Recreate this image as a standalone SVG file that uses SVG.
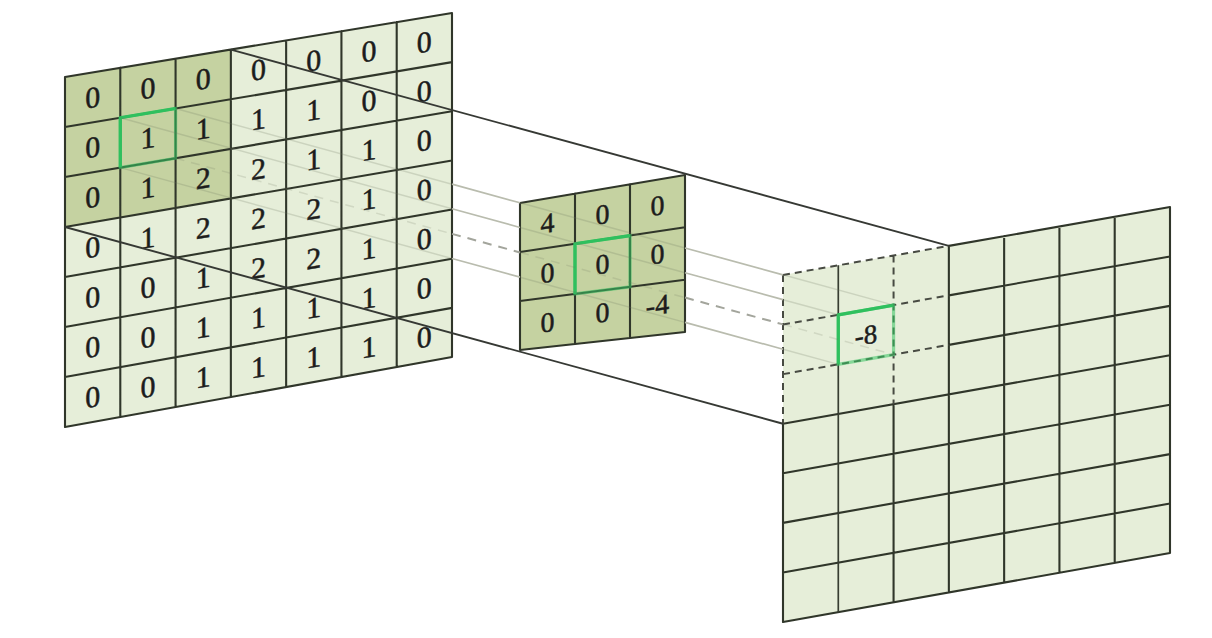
<svg xmlns="http://www.w3.org/2000/svg" width="1212" height="638" viewBox="0 0 1212 638">
<style>
.light{fill:#e6eed9}
.dark{fill:#c5d2a1}
.grid{stroke:#30362a;stroke-width:2.1;fill:none;stroke-linecap:round}
.thin{stroke:#373d31;stroke-width:1.7;fill:none}
.dash{stroke:#474a42;stroke-width:2;stroke-dasharray:7 5;fill:none}
.hlsoft{stroke:#36c463;stroke-opacity:0.55;stroke-width:3.2;fill:none}
.hl{stroke:#2fc05e;stroke-width:3.2;fill:none;stroke-linejoin:round}
.num{font-family:"Liberation Serif","Times New Roman",serif;font-size:30px;fill:#1c1c1c;stroke:#1c1c1c;stroke-width:0.5;text-anchor:middle}
.knum{font-size:28px}
.onum{font-size:27px}
.proj{stroke:#b9bcae;stroke-width:1.7;fill:none}
.projd{stroke:#a3a59c;stroke-width:2;stroke-dasharray:9 7;fill:none}
.projf{stroke:#6f7560;stroke-opacity:0.22;stroke-width:1.5;fill:none}
.projfd{stroke:#6f7560;stroke-opacity:0.18;stroke-width:1.5;stroke-dasharray:9 7;fill:none}
.edge{stroke:#363934;stroke-width:1.9;fill:none}
</style>
<rect width="1212" height="638" fill="#ffffff"/>

<g id="input-grid">
  <polygon class="light" points="65,77 452,13 452,357 65,427"/>
  <polygon class="dark" points="65,77 230.86,49.57 230.86,198.47 65,227"/>
  <path class="grid" d="M65,77V427 M120.29,67.86V417 M175.57,58.71V407 M230.86,49.57V397 M286.14,40.43V387 M341.43,31.29V377 M396.71,22.14V367 M452,13V357
  M65,77L452,13 M65,127L452,62.14 M65,177L452,111.29 M65,227L452,160.43 M65,277L452,209.57 M65,327L452,258.71 M65,377L452,307.86 M65,427L452,357"/>
  <g class="num">
    <text transform="translate(92.64 97.40) skewY(-9.4)" y="10">0</text>
    <text transform="translate(147.93 88.20) skewY(-9.4)" y="10">0</text>
    <text transform="translate(203.21 78.99) skewY(-9.4)" y="10">0</text>
    <text transform="translate(258.5 69.79) skewY(-9.4)" y="10">0</text>
    <text transform="translate(313.79 60.58) skewY(-9.4)" y="10">0</text>
    <text transform="translate(369.07 51.37) skewY(-9.4)" y="10">0</text>
    <text transform="translate(424.36 42.17) skewY(-9.4)" y="10">0</text>

    <text transform="translate(92.64 147.34) skewY(-9.4)" y="10">0</text>
    <text transform="translate(147.93 138.02) skewY(-9.4)" y="10">1</text>
    <text transform="translate(203.21 128.68) skewY(-9.4)" y="10">1</text>
    <text transform="translate(258.5 119.36) skewY(-9.4)" y="10">1</text>
    <text transform="translate(313.79 110.03) skewY(-9.4)" y="10">1</text>
    <text transform="translate(369.07 100.70) skewY(-9.4)" y="10">0</text>
    <text transform="translate(424.36 91.37) skewY(-9.4)" y="10">0</text>

    <text transform="translate(92.64 197.28) skewY(-9.4)" y="10">0</text>
    <text transform="translate(147.93 187.84) skewY(-9.4)" y="10">1</text>
    <text transform="translate(203.21 178.37) skewY(-9.4)" y="10">2</text>
    <text transform="translate(258.5 168.93) skewY(-9.4)" y="10">2</text>
    <text transform="translate(313.79 159.48) skewY(-9.4)" y="10">1</text>
    <text transform="translate(369.07 150.03) skewY(-9.4)" y="10">1</text>
    <text transform="translate(424.36 140.57) skewY(-9.4)" y="10">0</text>

    <text transform="translate(92.64 247.22) skewY(-9.4)" y="10">0</text>
    <text transform="translate(147.93 237.66) skewY(-9.4)" y="10">1</text>
    <text transform="translate(203.21 228.06) skewY(-9.4)" y="10">2</text>
    <text transform="translate(258.5 218.50) skewY(-9.4)" y="10">2</text>
    <text transform="translate(313.79 208.93) skewY(-9.4)" y="10">2</text>
    <text transform="translate(369.07 199.36) skewY(-9.4)" y="10">1</text>
    <text transform="translate(424.36 189.77) skewY(-9.4)" y="10">0</text>

    <text transform="translate(92.64 297.16) skewY(-9.4)" y="10">0</text>
    <text transform="translate(147.93 287.48) skewY(-9.4)" y="10">0</text>
    <text transform="translate(203.21 277.75) skewY(-9.4)" y="10">1</text>
    <text transform="translate(258.5 268.07) skewY(-9.4)" y="10">2</text>
    <text transform="translate(313.79 258.38) skewY(-9.4)" y="10">2</text>
    <text transform="translate(369.07 248.69) skewY(-9.4)" y="10">1</text>
    <text transform="translate(424.36 238.97) skewY(-9.4)" y="10">0</text>

    <text transform="translate(92.64 347.10) skewY(-9.4)" y="10">0</text>
    <text transform="translate(147.93 337.30) skewY(-9.4)" y="10">0</text>
    <text transform="translate(203.21 327.44) skewY(-9.4)" y="10">1</text>
    <text transform="translate(258.5 317.64) skewY(-9.4)" y="10">1</text>
    <text transform="translate(313.79 307.83) skewY(-9.4)" y="10">1</text>
    <text transform="translate(369.07 298.02) skewY(-9.4)" y="10">1</text>
    <text transform="translate(424.36 288.17) skewY(-9.4)" y="10">0</text>

    <text transform="translate(92.64 397.04) skewY(-9.4)" y="10">0</text>
    <text transform="translate(147.93 387.12) skewY(-9.4)" y="10">0</text>
    <text transform="translate(203.21 377.13) skewY(-9.4)" y="10">1</text>
    <text transform="translate(258.5 367.21) skewY(-9.4)" y="10">1</text>
    <text transform="translate(313.79 357.28) skewY(-9.4)" y="10">1</text>
    <text transform="translate(369.07 347.35) skewY(-9.4)" y="10">1</text>
    <text transform="translate(424.36 337.37) skewY(-9.4)" y="10">0</text>
  </g>
  <polygon class="hlsoft" points="120.29,117.74 175.57,108.47 175.57,158.23 120.29,167.61"/>
  <polyline class="hl" points="120.29,167.61 120.29,117.74 175.57,108.47"/>
</g>

<g id="kernel">
  <polygon class="dark" points="520,203 685,175 685,332 520,350"/>
  <path class="grid" d="M520,203V350 M575,193.67V344 M630,184.33V338 M685,175V332 M520,203L685,175 M520,252L685,227.33 M520,301L685,279.67 M520,350L685,332"/>
  <g class="num knum">
    <text transform="translate(547.5 223.11) skewY(-8)" y="9.5">4</text>
    <text transform="translate(602.5 214.33) skewY(-8)" y="9.5">0</text>
    <text transform="translate(657.5 205.56) skewY(-8)" y="9.5">0</text>
    <text transform="translate(547.5 272.67) skewY(-8)" y="9.5">0</text>
    <text transform="translate(602.5 264) skewY(-8)" y="9.5">0</text>
    <text transform="translate(657.5 254) skewY(-8)" y="9.5">0</text>
    <text transform="translate(547.5 322.22) skewY(-8)" y="9.5">0</text>
    <text transform="translate(602.5 312.5) skewY(-8)" y="9.5">0</text>
    <text transform="translate(657.5 305) skewY(-8)" y="9.5">-4</text>
  </g>
  <polygon class="hlsoft" points="575,243.78 630,235.56 630,286.78 575,293.89"/>
  <polyline class="hl" points="575,293.89 575,243.78 630,235.56"/>
</g>

<g id="output-grid">
  <polygon class="light" points="783,275 1170,207 1170,553 783,622"/>
  <path class="grid" d="M783,423.71V622 M893.57,404.16V602.29 M948.86,245.86V592.43 M1004.14,236.14V582.57 M1059.43,226.43V572.71 M1114.71,216.71V562.86 M1170,207V553
  M948.86,245.86L1170,207 M948.86,295.37L1170,256.43 M948.86,344.88L1170,305.86 M783,423.71L1170,355.29 M783,473.29L1170,404.71 M783,522.86L1170,454.14 M783,572.43L1170,503.57 M783,622L1170,553"/>
  <path class="thin" d="M838.29,265.29V612.14"/>
  <path class="dash" d="M783,275V423.71 M893.57,255.57V404.16 M783,275L948.86,245.86 M783,324.57L948.86,295.37 M783,374.14L948.86,344.88"/>
  <text class="num onum" transform="translate(865.93 334.74) skewY(-9)" y="9.5">-8</text>
  <polygon class="hlsoft" points="838.29,314.84 893.57,305.10 893.57,354.63 838.29,364.39"/>
  <polyline class="hl" points="838.29,364.39 838.29,314.84 893.57,305.10"/>
</g>

<g id="connectors">
  <!-- faint parts over the panels -->
  <path class="projf" d="M120.29,117.74L452,208.80 M520,227.46L685,272.76 M783,299.66L838.29,314.84
  M175.57,108.47L452,184.17 M520,202.80L685,247.98 M783,274.82L893.57,305.10
  M120.29,167.61L452,258.52 M520,277.16L685,322.38 M783,349.24L838.29,364.39"/>
  <path class="projfd" d="M175.57,158.23L452,233.84 M520,252.45L685,297.58 M783,324.39L893.57,354.63"/>
  <!-- visible parts in the gaps -->
  <path class="proj" d="M452,208.80L520,227.46 M685,272.76L783,299.66
  M452,184.17L520,202.80 M685,247.98L783,274.82
  M452,258.52L520,277.16 M685,322.38L783,349.24"/>
  <path class="projd" d="M452,233.84L520,252.45 M685,297.58L783,324.39"/>
  <line class="edge" x1="230.86" y1="49.57" x2="948.86" y2="245.86"/>
  <line class="edge" x1="65" y1="227" x2="783" y2="423.71"/>
</g>
</svg>
